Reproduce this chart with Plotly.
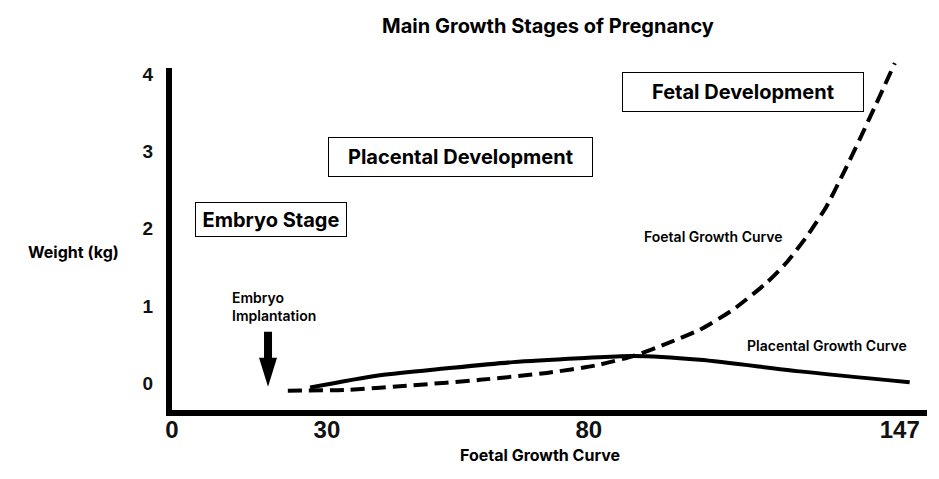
import plotly.graph_objects as go

# ---- data (x in chart units; tick labels sit at the tick positions below) ----
foetal_x = [23.4, 35.3, 48.7, 62.2, 75.7, 85.8, 93.2, 99.9, 106.6, 113.3, 120.1, 124.1,
            128.2, 132.2, 135.6, 138.9, 142.3, 146.0]
foetal_y = [-0.10, -0.09, -0.03, 0.04, 0.13, 0.23, 0.35, 0.51, 0.69, 0.95, 1.30, 1.56,
            1.90, 2.29, 2.72, 3.16, 3.63, 4.15]

placental_x = [27.9, 42.0, 55.5, 68.9, 82.4, 93.1, 106.6, 126.8, 149.0]
placental_y = [-0.06, 0.10, 0.19, 0.27, 0.32, 0.35, 0.30, 0.15, 0.01]

x_tick_vals = [0, 31.3, 84.2, 147]
x_tick_text = ["0", "30", "80", "147"]
y_tick_vals = [0, 1, 2, 3, 4]
y_tick_text = ["0", "1", "2", "3", "4"]

x_range = [-0.6, 152.5]
y_range = [-0.39, 4.32]

stage_labels = ["Embryo Stage", "Placental Development", "Fetal Development"]
stage_x = [19.9, 58.2, 115.4]
stage_y = [2.12, 2.93, 3.77]
stage_w = [150, 263, 240]
stage_h = [33, 38, 38]

arrow_x = 19.4
arrow_tip_y = -0.05

FONT = "Inter"

# page geometry (the page body has an 8px margin)
OFF = 8
W, H = 931, 471
L, R, T, B = 161, 12, 42, 66
PW, PH = W - L - R, H - T - B          # plot area in px
X_PX = PW / (x_range[1] - x_range[0])  # px per x unit
Y_PX = PH / (y_range[1] - y_range[0])  # px per y unit


def px_to_paper(px, py):
    return (px - OFF - L) / PW, (H - B - (py - OFF)) / PH


fig = go.Figure()

fig.add_trace(go.Scatter(
    x=foetal_x, y=foetal_y, mode="lines",
    line=dict(color="black", width=4, dash="14px,7px", shape="spline", smoothing=0.6),
    showlegend=False, hoverinfo="skip"))

fig.add_trace(go.Scatter(
    x=placental_x, y=placental_y, mode="lines",
    line=dict(color="black", width=4, shape="spline", smoothing=0.8),
    showlegend=False, hoverinfo="skip"))

# axis lines (paper coords so they are not clipped)
axis_top = px_to_paper(0, 68)[1]
fig.add_shape(type="line", xref="paper", yref="paper", x0=0, x1=0,
              y0=-3 / PH, y1=axis_top, line=dict(color="black", width=6))
fig.add_shape(type="line", xref="paper", yref="paper", x0=-3 / PW, x1=1,
              y0=0, y1=0, line=dict(color="black", width=6))

# implantation arrow: shaft + narrow head, built around the arrow tip in data units
sh_w, hd_w, hd_l, sh_l = 8 / X_PX, 18 / X_PX, 29 / Y_PX, 26 / Y_PX
ax0, ty = arrow_x, arrow_tip_y
path = (f"M {ax0 - sh_w/2} {ty + hd_l + sh_l} L {ax0 + sh_w/2} {ty + hd_l + sh_l} "
        f"L {ax0 + sh_w/2} {ty + hd_l} L {ax0 + hd_w/2} {ty + hd_l} L {ax0} {ty} "
        f"L {ax0 - hd_w/2} {ty + hd_l} L {ax0 - sh_w/2} {ty + hd_l} Z")
fig.add_shape(type="path", xref="x", yref="y", path=path,
              fillcolor="black", line=dict(color="black", width=0))

annotations = []
for lab, x, y, w, h in zip(stage_labels, stage_x, stage_y, stage_w, stage_h):
    annotations.append(dict(
        x=x, y=y, xref="x", yref="y", text="<b>" + lab + "</b>", showarrow=False,
        font=dict(family=FONT, size=20, color="black"),
        bordercolor="black", borderwidth=1, borderpad=0, width=w, height=h,
        bgcolor="white", align="center", valign="middle"))

annotations += [
    dict(x=109.4, y=1.90, xref="x", yref="y", text="Foetal Growth Curve", showarrow=False,
         font=dict(family=FONT, size=14, color="black", weight=600)),
    dict(x=132.4, y=0.49, xref="x", yref="y", text="Placental Growth Curve", showarrow=False,
         font=dict(family=FONT, size=14, color="black", weight=600)),
    dict(x=11.7, y=0.99, xref="x", yref="y", text="Embryo<br>Implantation", showarrow=False,
         xanchor="left", align="left",
         font=dict(family=FONT, size=14, color="black", weight=600)),
]

wx, wy = px_to_paper(73, 252)
annotations.append(dict(x=wx, y=wy, xref="paper", yref="paper", xanchor="center", yanchor="middle",
                        text="<b>Weight (kg)</b>", showarrow=False,
                        font=dict(family=FONT, size=16, color="black")))
fx, fy = px_to_paper(540, 455)
annotations.append(dict(x=fx, y=fy, xref="paper", yref="paper", xanchor="center", yanchor="middle",
                        text="<b>Foetal Growth Curve</b>", showarrow=False,
                        font=dict(family=FONT, size=16, color="black")))

fig.update_layout(
    width=W, height=H,
    margin=dict(l=L, r=R, t=T, b=B),
    paper_bgcolor="white", plot_bgcolor="white",
    title=dict(text="<b>Main Growth Stages of Pregnancy</b>", x=(548 - OFF) / W, xanchor="center",
               y=1 - (26 - OFF) / H, yanchor="middle", font=dict(family=FONT, size=20, color="black")),
    xaxis=dict(range=x_range, tickvals=x_tick_vals, ticktext=x_tick_text, showgrid=False,
               zeroline=False, showline=False, ticks="",
               tickfont=dict(family="Liberation Sans", size=24, color="#111", weight="bold"),
               ticklabelstandoff=0),
    yaxis=dict(range=y_range, tickvals=y_tick_vals, ticktext=y_tick_text, showgrid=False,
               zeroline=False, showline=False, ticks="",
               tickfont=dict(family="Liberation Sans", size=19, color="#111", weight="bold"),
               ticklabelstandoff=15),
    annotations=annotations,
)

fig.write_html("out.html")
